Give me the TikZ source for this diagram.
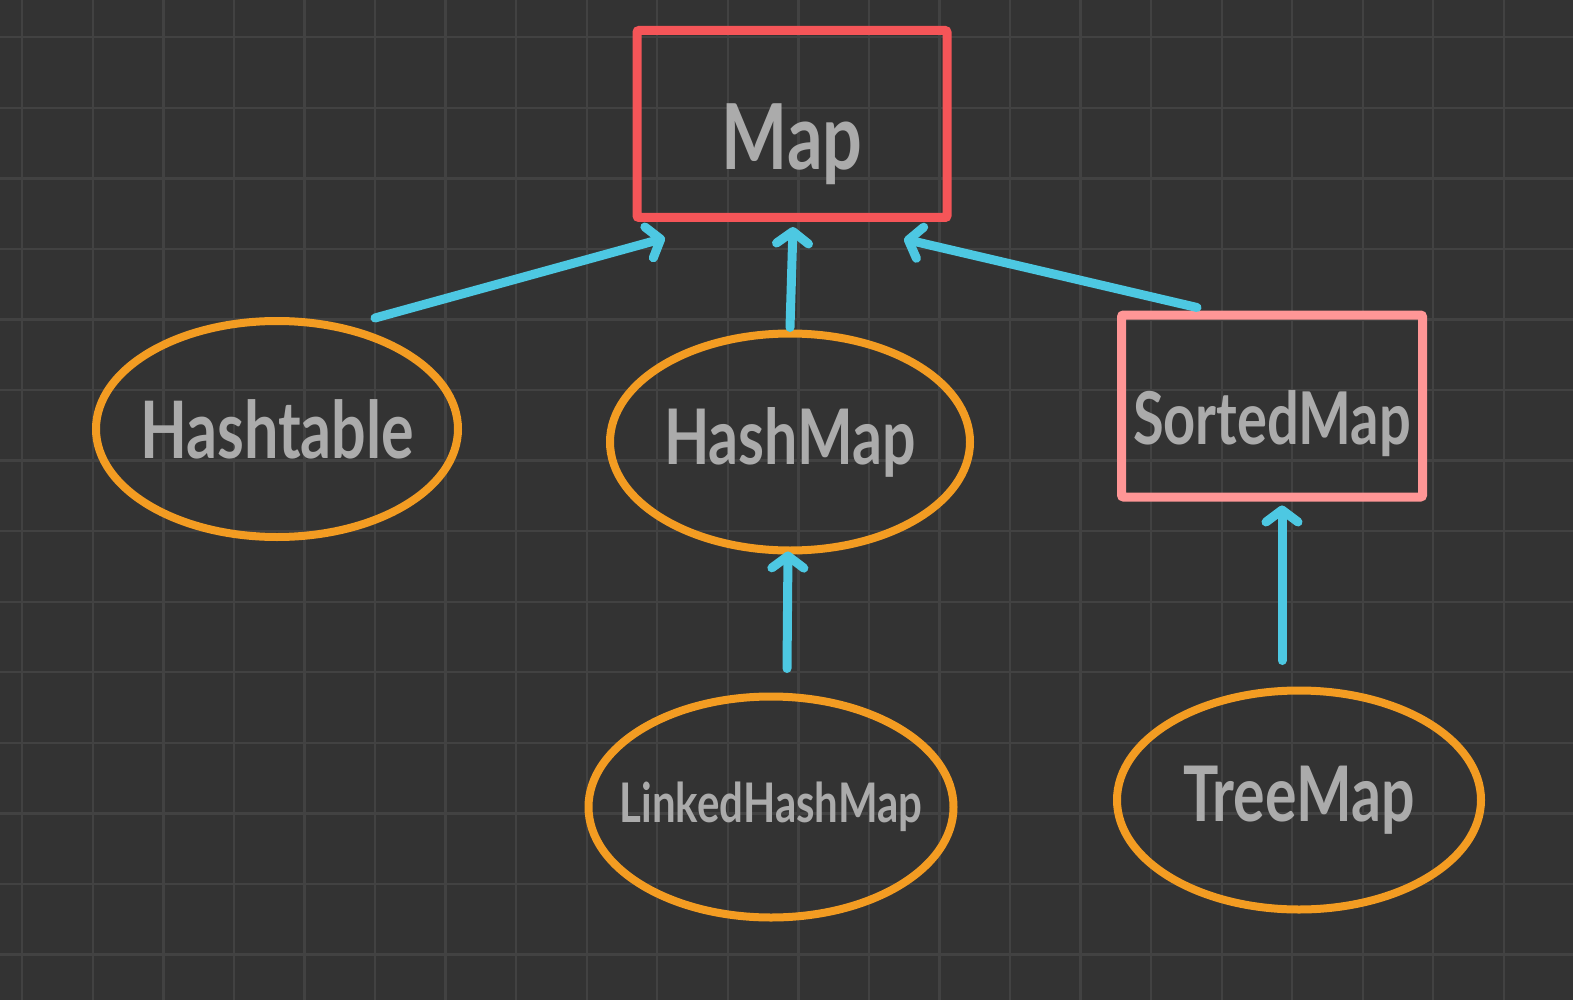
\documentclass[tikz,border=0pt]{standalone}
\usepackage{fontspec}
\setmainfont{Lato}
\usepackage{graphicx}
\usepackage{tikz}
\usetikzlibrary{shapes.geometric,arrows.meta}

\definecolor{boardbg}{RGB}{51,51,51}
\definecolor{boardgrid}{RGB}{66,66,66}
\definecolor{mapred}{RGB}{245,85,88}
\definecolor{mappink}{RGB}{255,150,150}
\definecolor{classorange}{RGB}{243,156,34}
\definecolor{linkcyan}{RGB}{77,200,226}
\definecolor{handgray}{RGB}{171,171,171}

\newcommand{\handtext}[1]{\makebox[0pt]{\scalebox{1}[1.3]{\bfseries #1}}}

\begin{document}
\begin{tikzpicture}[x=1pt, y=-1pt,
        iface/.style={draw, rectangle, rounded corners=2pt, line width=9pt, inner sep=0pt, text=handgray},
        impl/.style={draw=classorange, ellipse, line width=8pt, inner sep=0pt, text=handgray},
        link/.style={-{Straight Barb[length=12pt, width=32pt, round]}, line width=9pt, line cap=round, draw=linkcyan},
        gridline/.style={draw=boardgrid, line width=2.3pt}
    ]
        \useasboundingbox (0,0) rectangle (1573,1000);
        \fill[boardbg] (0,0) rectangle (1573,1000);
        \begin{scope}
            \clip (0,0) rectangle (1573,1000);
            \foreach \i in {0,...,22}
                \draw[gridline] ({22.3+70.55*\i},0) -- ++(0,1000);
            \foreach \j in {0,...,13}
                \draw[gridline] (0,{37.3+70.55*\j}) -- ++(1573,0);
        \end{scope}

        % interfaces
        \node[iface, draw=mapred, minimum width=310pt, minimum height=187pt,
              text height=92pt, text depth=0pt,
              font=\fontsize{70}{80}\selectfont] (map) at (792,124) {\handtext{Map}};
        \node[iface, draw=mappink, minimum width=301pt, minimum height=182pt,
              text height=76pt, text depth=0pt,
              font=\fontsize{56}{64}\selectfont] (sorted) at (1272,406) {\handtext{SortedMap}};

        % implementations
        \node[impl, minimum width=362pt, minimum height=216pt,
              font=\fontsize{61}{70}\selectfont] (ht) at (277,429) {\handtext{Hashtable}};
        \node[impl, minimum width=360pt, minimum height=217pt,
              font=\fontsize{59}{68}\selectfont] (hm) at (790,442) {\handtext{HashMap}};
        \node[impl, minimum width=365pt, minimum height=221pt,
              font=\fontsize{42}{50}\selectfont] (lhm) at (771,807) {\handtext{LinkedHashMap}};
        \node[impl, minimum width=364pt, minimum height=219pt,
              font=\fontsize{59}{68}\selectfont] (tm) at (1299,800) {\handtext{TreeMap}};

        % inheritance
        \draw[link] ([shift={(98,1)}]ht.north) -- ([shift={(-127,16)}]map.south);
        \draw[link] ([shift={(0,-2)}]hm.north) -- ([shift={(1,5)}]map.south);
        \draw[link] ([shift={(-75,-3)}]sorted.north) -- ([shift={(112,17)}]map.south);
        \draw[link] ([shift={(16,-24)}]lhm.north) -- ([shift={(-2,-3)}]hm.south);
        \draw[link] ([shift={(-17,-26)}]tm.north) -- ([shift={(10,4)}]sorted.south);
\end{tikzpicture}
\end{document}
